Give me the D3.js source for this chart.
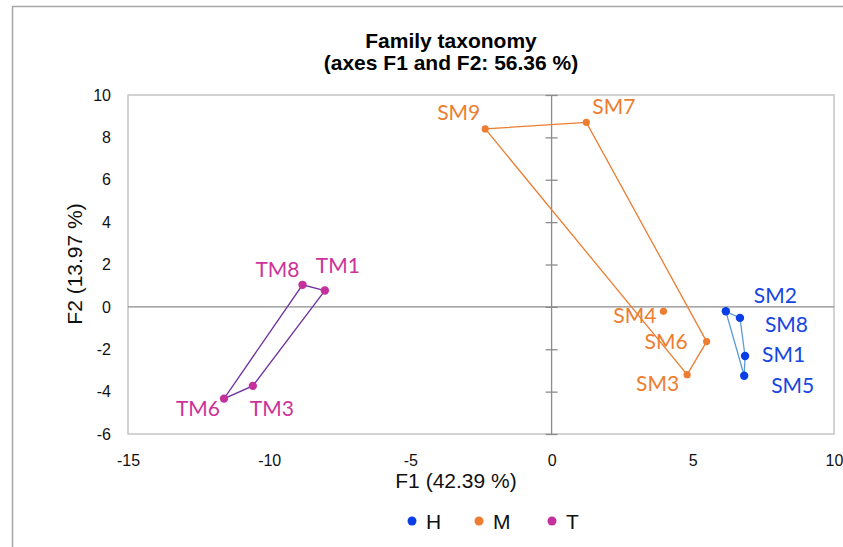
<!DOCTYPE html>
<html>
<head>
<meta charset="utf-8">
<script src="https://cdn.jsdelivr.net/npm/d3@7/dist/d3.min.js"></script>
<style>
  html, body { margin: 0; padding: 0; background: #fff; }
  svg { display: block; }
</style>
</head>
<body>
<svg id="chart" width="843" height="547"></svg>
<script>
// PCA scores of the samples on the first two factors
const sampleNames = ["SM1", "SM2", "SM5", "SM8", "SM3", "SM4", "SM6", "SM7", "SM9", "TM1", "TM3", "TM6", "TM8"];
const sampleGroups = ["H", "H", "H", "H", "M", "M", "M", "M", "M", "T", "T", "T", "T"];
const f1Scores = [6.85, 6.17, 6.82, 6.67, 4.80, 3.96, 5.49, 1.23, -2.35, -8.03, -10.58, -11.60, -8.82];
const f2Scores = [-2.32, -0.21, -3.25, -0.52, -3.20, -0.21, -1.64, 8.71, 8.40, 0.77, -3.73, -4.33, 1.04];

const groupNames = ["H", "M", "T"];
const xTicks = [-15, -10, -5, 0, 5, 10];
const yTicks = [-6, -4, -2, 0, 2, 4, 6, 8, 10];

const titleLines = ["Family taxonomy", "(axes F1 and F2: 56.36 %)"];
const xTitle = "F1 (42.39 %)";
const yTitle = "F2 (13.97 %)";

// Styling per group
const pointColor = { H: "#0B3FE6", M: "#ED7D31", T: "#C4309C" };
const labelColor = { H: "#1746E0", M: "#ED7D31", T: "#CC3399" };
const hullColor = { H: "#5B9BD5", M: "#ED7D31", T: "#7030A0" };

// Label placement around each point: [anchor, dx, dy]
const labelPlacement = {
  SM9: ["end", -5, -9], SM7: ["start", 6, -8],
  SM2: ["start", 28, -8.5], SM8: ["start", 25, 14], SM1: ["start", 17, 6], SM5: ["start", 27, 17],
  SM4: ["end", -7, 12], SM6: ["end", -19, 7], SM3: ["end", -8, 16],
  TM8: ["end", -3, -8], TM1: ["start", -9, -18], TM6: ["end", -4, 17], TM3: ["start", -3, 30]
};

const svg = d3.select("#chart");
const plot = { left: 128, right: 834, top: 95, bottom: 434 };

const x = d3.scaleLinear().domain([-15, 10]).range([plot.left, plot.right]);
const y = d3.scaleLinear().domain([-6, 10]).range([plot.bottom, plot.top]);

// Tick text uses a plain hyphen for negatives
const tickText = d => String(d);

// Chart outer frame
svg.append("rect")
  .attr("x", 12.5).attr("y", 6.5).attr("width", 900).attr("height", 600)
  .attr("fill", "none").attr("stroke", "#a6a6a6").attr("stroke-width", 1.5);

// Title
svg.append("text")
  .attr("x", 451).attr("y", 48)
  .attr("text-anchor", "middle")
  .attr("font-family", "Liberation Sans, Arial, sans-serif")
  .attr("font-weight", "bold").attr("font-size", 21)
  .selectAll("tspan").data(titleLines).join("tspan")
  .attr("x", 451).attr("dy", (d, i) => i === 0 ? 0 : 22)
  .text(d => d);

// Plot border
svg.append("rect")
  .attr("x", plot.left).attr("y", plot.top)
  .attr("width", plot.right - plot.left).attr("height", plot.bottom - plot.top)
  .attr("fill", "none").attr("stroke", "#c4c4c4").attr("stroke-width", 1.5);

// Bottom axis labels (no line; frame acts as the axis)
const xAxis = d3.axisBottom(x).tickValues(xTicks).tickSize(0).tickPadding(21).tickFormat(tickText);
const gx = svg.append("g").attr("transform", `translate(0,${plot.bottom})`).call(xAxis);
gx.select(".domain").remove();
gx.selectAll("text")
  .attr("font-family", "Liberation Sans, Arial, sans-serif")
  .attr("font-size", 16).attr("fill", "#111");

// Left axis labels
const yAxis = d3.axisLeft(y).tickValues(yTicks).tickSize(0).tickPadding(17).tickFormat(tickText);
const gy = svg.append("g").attr("transform", `translate(${plot.left},0)`).call(yAxis);
gy.select(".domain").remove();
gy.selectAll("text")
  .attr("font-family", "Liberation Sans, Arial, sans-serif")
  .attr("font-size", 16).attr("fill", "#111");

// Zero lines
svg.append("line")
  .attr("x1", plot.left).attr("x2", plot.right)
  .attr("y1", y(0)).attr("y2", y(0))
  .attr("stroke", "#8c8c8c").attr("stroke-width", 1.3);

const gz = svg.append("g").attr("transform", `translate(${x(0)},0)`)
  .call(d3.axisRight(y).tickValues(yTicks).tickSize(6).tickFormat(""));
gz.select(".domain").attr("stroke", "#8c8c8c").attr("stroke-width", 1.3).attr("d", `M0,${plot.top}V${plot.bottom}`);
gz.selectAll(".tick line").attr("x1", -6).attr("x2", 6).attr("stroke", "#8c8c8c").attr("stroke-width", 1.3);

// Axis titles
svg.append("text")
  .attr("x", 456).attr("y", 488)
  .attr("text-anchor", "middle")
  .attr("font-family", "Liberation Sans, Arial, sans-serif")
  .attr("font-size", 21).attr("fill", "#111")
  .text(xTitle);

svg.append("text")
  .attr("transform", `translate(82,264) rotate(-90)`)
  .attr("text-anchor", "middle")
  .attr("font-family", "Liberation Sans, Arial, sans-serif")
  .attr("font-size", 21).attr("fill", "#111")
  .text(yTitle);

const samples = sampleNames.map((name, i) => ({
  name, group: sampleGroups[i], f1: f1Scores[i], f2: f2Scores[i]
}));

// Convex hull around each group
groupNames.forEach(g => {
  const pts = samples.filter(s => s.group === g).map(s => [x(s.f1), y(s.f2)]);
  const hull = d3.polygonHull(pts);
  svg.append("path")
    .attr("d", "M" + hull.map(p => p.join(",")).join("L") + "Z")
    .attr("fill", "none").attr("stroke", hullColor[g]).attr("stroke-width", 1.3);
});

// Points
svg.append("g").selectAll("circle").data(samples).join("circle")
  .attr("cx", d => x(d.f1)).attr("cy", d => y(d.f2))
  .attr("r", d => d.group === "M" ? 3.6 : 4.2)
  .attr("fill", d => pointColor[d.group]);

// Point labels
svg.append("g").selectAll("text").data(samples).join("text")
  .attr("x", d => x(d.f1) + labelPlacement[d.name][1])
  .attr("y", d => y(d.f2) + labelPlacement[d.name][2])
  .attr("text-anchor", d => labelPlacement[d.name][0])
  .attr("font-family", "Lato, Open Sans, sans-serif")
  .attr("font-size", 21)
  .attr("fill", d => labelColor[d.group])
  .text(d => d.name);

// Legend
const legendX = { H: 412, M: 479, T: 552 };
const lg = svg.append("g").selectAll("g").data(groupNames).join("g")
  .attr("transform", d => `translate(${legendX[d]},521)`);
lg.append("circle").attr("r", 4.5).attr("fill", d => pointColor[d]);
lg.append("text")
  .attr("x", 14).attr("y", 7.5)
  .attr("font-family", "Liberation Sans, Arial, sans-serif")
  .attr("font-size", 21).attr("fill", "#111")
  .text(d => d);
</script>
</body>
</html>
